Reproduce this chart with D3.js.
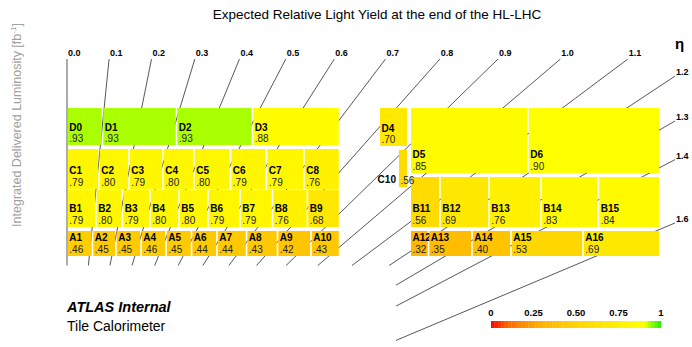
<!DOCTYPE html>
<html>
<head>
<meta charset="utf-8">
<script src="https://cdn.jsdelivr.net/npm/d3@7"></script>
<style>
body { margin: 0; background: #fff; }
text { font-family: "Liberation Sans", Arial, sans-serif; }
</style>
</head>
<body>
<svg id="chart" width="692" height="347"></svg>
<script>
// relative light yield per cell, one pair of arrays per layer
var namesLBD = ["D0", "D1", "D2", "D3"];
var yieldLBD = [0.93, 0.93, 0.93, 0.88];
var namesLBC = ["C1", "C2", "C3", "C4", "C5", "C6", "C7", "C8"];
var yieldLBC = [0.79, 0.80, 0.79, 0.80, 0.80, 0.79, 0.79, 0.76];
var namesLBB = ["B1", "B2", "B3", "B4", "B5", "B6", "B7", "B8", "B9"];
var yieldLBB = [0.79, 0.80, 0.79, 0.80, 0.80, 0.79, 0.79, 0.76, 0.68];
var namesLBA = ["A1", "A2", "A3", "A4", "A5", "A6", "A7", "A8", "A9", "A10"];
var yieldLBA = [0.46, 0.45, 0.45, 0.46, 0.45, 0.44, 0.44, 0.43, 0.42, 0.43];
var namesEBD = ["D5", "D6"];
var yieldEBD = [0.85, 0.90];
var namesEBB = ["B11", "B12", "B13", "B14", "B15"];
var yieldEBB = [0.56, 0.69, 0.76, 0.83, 0.84];
var namesEBA = ["A12", "A13", "A14", "A15", "A16"];
var yieldEBA = [0.32, 0.35, 0.40, 0.53, 0.69];
var namesITCD = ["D4"];
var yieldITCD = [0.70];
var namesITCC = ["C10"];
var yieldITCC = [0.56];

// cell boundaries along z and radial extent of each layer (mm)
var edgesLBD = [0, 366, 1129, 1912, 2810];
var edgesLBC = [0, 330, 639, 990, 1309, 1686, 2057, 2443, 2810];
var edgesLBB = [0, 299, 572, 856, 1155, 1454, 1784, 2119, 2479, 2810];
var edgesLBA = [0, 263, 505, 763, 1021, 1284, 1546, 1851, 2170, 2515, 2810];
var edgesEBD = [3538, 4753, 6111];
var edgesEBB = [3538, 3845, 4351, 4887, 5479, 6111];
var edgesEBA = [3538, 3727, 4175, 4577, 5320, 6111];
var edgesITCD = [3219, 3513];
var edgesITCC = [3414, 3513];
var radiiLBD = [3442, 3824];
var radiiLBC = [2989, 3401];
var radiiLBB = [2597, 2978];
var radiiA = [2298, 2556];
var radiiEBD = [3154, 3824];
var radiiEBB = [2597, 3112];
var radiiITCD = [3432, 3824];
var radiiITCC = [3009, 3391];

// pseudorapidity lines, drawn between an inner and an outer envelope (mm)
var etaValues = [0.0, 0.1, 0.2, 0.3, 0.4, 0.5, 0.6, 0.7, 0.8, 0.9, 1.0, 1.1, 1.2, 1.3, 1.4, 1.6];
var rInner = 2200, zInner = 3392, rOuter = 4328, zOuter = 6268;

var paletteStops = [0, 0.1, 0.3, 0.45, 0.55, 0.7, 0.8, 0.905, 0.93, 1];
var paletteColors = ["#ff0000", "#ff6a00", "#ffb400", "#ffcb00", "#ffda00", "#ffe900",
					 "#fff700", "#ffff00", "#aaff00", "#22ee00"];
var barTicks = [0, 0.25, 0.5, 0.75, 1];
var barTickLabels = ["0", "0.25", "0.50", "0.75", "1"];
var barBins = 50;

var svg = d3.select("#chart");

var x = d3.scaleLinear().domain([0, 6100]).range([67, 658.7]);
var y = d3.scaleLinear().domain([2200, 4330]).range([265.5, 58.9]);
var color = d3.scaleLinear().domain(paletteStops).range(paletteColors);

svg.append("text")
	.attr("x", 377).attr("y", 19)
	.attr("text-anchor", "middle")
	.style("font-size", "13.5px")
	.text("Expected Relative Light Yield at the end of the HL-LHC");

var ylab = svg.append("text")
	.attr("transform", "translate(21, 125) rotate(-90)")
	.attr("text-anchor", "middle")
	.style("font-size", "12.5px")
	.style("fill", "#a0a0a0");
ylab.append("tspan").text("Integrated Delivered Luminosity [fb");
ylab.append("tspan").attr("dy", -5).style("font-size", "8px").text("-1");
ylab.append("tspan").attr("dy", 5).text("]");

// eta lines
var lineGroup = svg.append("g");
etaValues.forEach(function(eta)
{
	var s = Math.sinh(eta);
	var t0 = s > 0 ? Math.min(rInner, zInner / s) : rInner;
	var t1 = s > 0 ? Math.min(rOuter, zOuter / s) : rOuter;
	var p = d3.path();
	p.moveTo(x(t0 * s), y(t0));
	p.lineTo(x(t1 * s), y(t1));
	lineGroup.append("path")
		.attr("d", p.toString())
		.style("stroke", "#444")
		.style("stroke-width", 0.9)
		.style("fill", "none");

	var onTop = t1 === rOuter;
	lineGroup.append("text")
		.attr("x", x(t1 * s) + 1)
		.attr("y", onTop ? y(t1) - 3 : y(t1) - 1)
		.style("font-size", "9px")
		.style("font-weight", "bold")
		.text(eta.toFixed(1));
});

svg.append("text")
	.attr("x", 675).attr("y", 49)
	.style("font-size", "15px")
	.style("font-weight", "bold")
	.text("\u03b7");

// cells
var layers = [
	{ names: namesLBD, values: yieldLBD, edges: edgesLBD, radii: radiiLBD },
	{ names: namesLBC, values: yieldLBC, edges: edgesLBC, radii: radiiLBC },
	{ names: namesLBB, values: yieldLBB, edges: edgesLBB, radii: radiiLBB },
	{ names: namesLBA, values: yieldLBA, edges: edgesLBA, radii: radiiA },
	{ names: namesEBD, values: yieldEBD, edges: edgesEBD, radii: radiiEBD },
	{ names: namesEBB, values: yieldEBB, edges: edgesEBB, radii: radiiEBB },
	{ names: namesEBA, values: yieldEBA, edges: edgesEBA, radii: radiiA },
	{ names: namesITCD, values: yieldITCD, edges: edgesITCD, radii: radiiITCD },
	{ names: namesITCC, values: yieldITCC, edges: edgesITCC, radii: radiiITCC, outside: true }
];

var cellGroup = svg.append("g");
var gap = 0.8;

layers.forEach(function(layer)
{
	layer.names.forEach(function(name, i)
	{
		var left = x(layer.edges[i]) + gap;
		var right = x(layer.edges[i + 1]) - gap;
		var top = y(layer.radii[1]);
		var bottom = y(layer.radii[0]);
		var g = cellGroup.append("g");
		g.append("rect")
			.attr("x", left).attr("y", top)
			.attr("width", right - left).attr("height", bottom - top)
			.style("fill", color(layer.values[i]));
		g.append("text")
			.attr("x", layer.outside ? left - 3 : left + 1.5)
			.attr("y", layer.outside ? bottom - 4 : bottom - 14.5)
			.attr("text-anchor", layer.outside ? "end" : "start")
			.style("font-size", "10px")
			.style("font-weight", "bold")
			.text(name);
		g.append("text")
			.attr("x", left + 1.5)
			.attr("y", bottom - 3)
			.style("font-size", "10px")
			.style("fill", "#222")
			.text(layer.values[i].toFixed(2).replace(/^0/, ""));
	});
});

// colour bar
var cb = d3.scaleLinear().domain([0, 1]).range([491, 661]);
var bar = svg.append("g");
d3.range(barBins).forEach(function(i)
{
	bar.append("rect")
		.attr("x", cb(i / barBins))
		.attr("y", 321)
		.attr("width", cb((i + 1) / barBins) - cb(i / barBins) + 0.3)
		.attr("height", 7)
		.style("fill", color((i + 0.5) / barBins));
});
barTicks.forEach(function(t, i)
{
	bar.append("text")
		.attr("x", cb(t)).attr("y", 316)
		.attr("text-anchor", "middle")
		.style("font-size", "9.5px")
		.style("font-weight", "bold")
		.text(barTickLabels[i]);
});

svg.append("text")
	.attr("x", 67).attr("y", 312)
	.style("font-size", "14.5px")
	.style("font-weight", "bold")
	.style("font-style", "italic")
	.text("ATLAS Internal");
svg.append("text")
	.attr("x", 67).attr("y", 331)
	.style("font-size", "14px")
	.text("Tile Calorimeter");
</script>
</body>
</html>
